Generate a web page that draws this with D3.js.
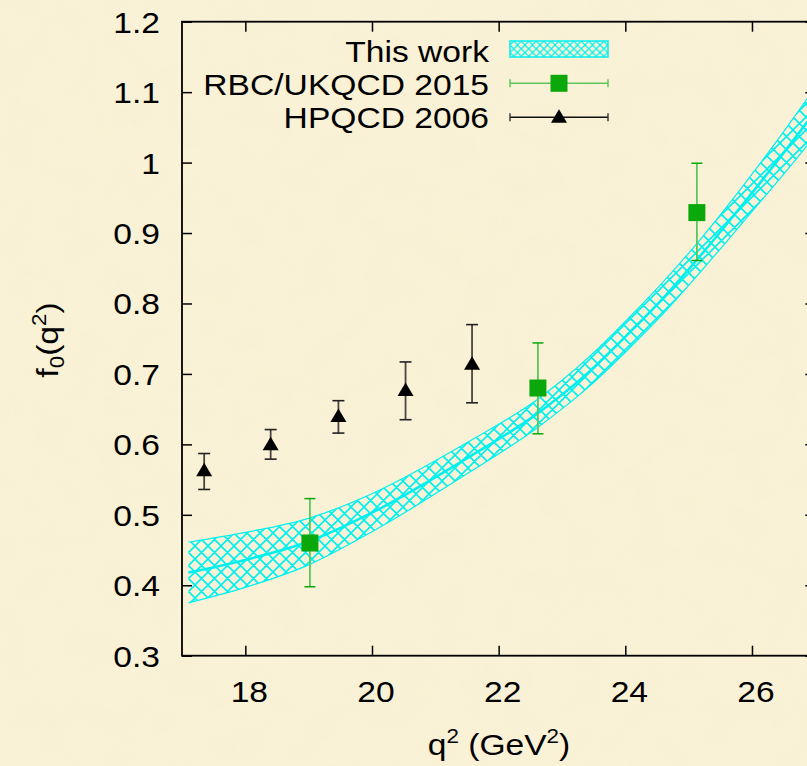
<!DOCTYPE html>
<html>
<head>
<meta charset="utf-8">
<script src="https://cdn.jsdelivr.net/npm/d3@7"></script>
<style>
html,body{margin:0;padding:0;background:#f9f1d5;}
svg{display:block;}
text{font-family:"Liberation Sans",Arial,Helvetica,sans-serif;fill:#000;}
</style>
</head>
<body>
<svg id="chart" width="807" height="766"></svg>
<script>
// ---------------- data ----------------
const xTicks = [18, 20, 22, 24, 26];
const yTicks = [0.3, 0.4, 0.5, 0.6, 0.7, 0.8, 0.9, 1.0, 1.1, 1.2];
const yTickLabels = ["0.3","0.4","0.5","0.6","0.7","0.8","0.9","1","1.1","1.2"];

// "This work" band (q^2, lower, central, upper)
const bandQ2  = [17.1, 18.0, 19.0, 20.0, 21.55, 22.6, 23.44, 24.17, 24.55, 25.13, 25.92, 26.86, 27.0];
const bandMid = [0.418, 0.436, 0.462, 0.503, 0.583, 0.643, 0.704, 0.768, 0.803, 0.862, 0.948, 1.056, 1.073];
const bandLo  = [0.375, 0.397, 0.429, 0.476, 0.561, 0.623, 0.683, 0.746, 0.781, 0.839, 0.922, 1.023, 1.039];
const bandHi  = [0.461, 0.475, 0.495, 0.530, 0.605, 0.663, 0.725, 0.790, 0.826, 0.885, 0.974, 1.089, 1.107];

// RBC/UKQCD 2015
const rbcQ2 = [19.02, 22.62, 25.13];
const rbcF0 = [0.460, 0.680, 0.929];
const rbcLo = [0.398, 0.615, 0.861];
const rbcHi = [0.523, 0.744, 0.999];

// HPQCD 2006
const hpQ2 = [17.35, 18.40, 19.47, 20.53, 21.58];
const hpF0 = [0.564, 0.601, 0.641, 0.678, 0.715];
const hpLo = [0.536, 0.579, 0.616, 0.635, 0.659];
const hpHi = [0.587, 0.621, 0.662, 0.717, 0.770];

const legendLabels = ["This work", "RBC/UKQCD 2015", "HPQCD 2006"];

// ---------------- layout ----------------
const L = 182, R = 815.3, T = 21.7, B = 655.7;
const FS = 30, SX = 1.12;
const cyan = "#00f0f0";
const green = "#0aa80a", greenBar = "#5cc65c";

const svg = d3.select("#chart");
const defs = svg.append("defs");

// background texture
const f = defs.append("filter").attr("id","paper").attr("x",0).attr("y",0).attr("width","100%").attr("height","100%");
f.append("feTurbulence").attr("type","fractalNoise").attr("baseFrequency","0.03").attr("numOctaves",3).attr("seed",7).attr("result","n");
f.append("feColorMatrix").attr("in","n").attr("type","matrix")
  .attr("values","0 0 0 0 0.82  0 0 0 0 0.76  0 0 0 0 0.58  0.5 0 0 0 -0.2");
svg.append("rect").attr("width",807).attr("height",766).attr("fill","#faf2d6");
svg.append("rect").attr("width",807).attr("height",766).attr("filter","url(#paper)").attr("opacity",0.45);

// hatch patterns
function hatch(id, s, w) {
  const p = defs.append("pattern").attr("id",id).attr("patternUnits","userSpaceOnUse")
    .attr("width",s).attr("height",s);
  p.append("path")
    .attr("d",`M${-s/2},${s/2}L${s/2},${s*1.5}M0,0L${s},${s}M${s/2},${-s/2}L${s*1.5},${s/2}` +
              `M${-s/2},${s/2}L${s/2},${-s/2}M0,${s}L${s},0M${s/2},${s*1.5}L${s*1.5},${s/2}`)
    .attr("stroke",cyan).attr("stroke-width",w).attr("fill","none");
}
hatch("hatchBig", 13, 1.6);
hatch("hatchSmall", 7.5, 1.2);

defs.append("clipPath").attr("id","plotClip").append("rect")
  .attr("x",L).attr("y",T).attr("width",R-L).attr("height",B-T);

const x = d3.scaleLinear().domain([17, 27]).range([L, R]);
const y = d3.scaleLinear().domain([0.3, 1.2]).range([B, T]);

// ---------------- band ----------------
const plot = svg.append("g").attr("clip-path","url(#plotClip)");
const bandData = bandQ2.map((q,i)=>({q, lo:bandLo[i], mid:bandMid[i], hi:bandHi[i]}));
const curve = d3.curveMonotoneX;
plot.append("path").datum(bandData)
  .attr("d", d3.area().x(d=>x(d.q)).y0(d=>y(d.lo)).y1(d=>y(d.hi)).curve(curve))
  .attr("fill","url(#hatchBig)").attr("stroke","none");
[ "lo", "hi" ].forEach(k=>{
  plot.append("path").datum(bandData)
    .attr("d", d3.line().x(d=>x(d.q)).y(d=>y(d[k])).curve(curve))
    .attr("fill","none").attr("stroke",cyan).attr("stroke-width",1.2);
});
plot.append("path").datum(bandData)
  .attr("d", d3.line().x(d=>x(d.q)).y(d=>y(d.mid)).curve(curve))
  .attr("fill","none").attr("stroke",cyan).attr("stroke-width",2.6);

// ---------------- RBC/UKQCD ----------------
const rbc = rbcQ2.map((q,i)=>({q, v:rbcF0[i], lo:rbcLo[i], hi:rbcHi[i]}));
const gR = plot.append("g");
rbc.forEach(d=>{
  const cx = x(d.q);
  gR.append("line").attr("x1",cx).attr("x2",cx).attr("y1",y(d.lo)).attr("y2",y(d.hi))
    .attr("stroke",greenBar).attr("stroke-width",1.8);
  [d.lo,d.hi].forEach(v=>gR.append("line").attr("x1",cx-5.5).attr("x2",cx+5.5).attr("y1",y(v)).attr("y2",y(v))
    .attr("stroke",green).attr("stroke-width",1.5));
  gR.append("rect").attr("x",cx-8.5).attr("y",y(d.v)-8.5).attr("width",17).attr("height",17).attr("fill",green);
});

// ---------------- HPQCD ----------------
const hp = hpQ2.map((q,i)=>({q, v:hpF0[i], lo:hpLo[i], hi:hpHi[i]}));
const gH = plot.append("g");
const tri = (cx,cy)=>`M${cx},${cy-7}L${cx+8},${cy+6.5}L${cx-8},${cy+6.5}Z`;
hp.forEach(d=>{
  const cx = x(d.q);
  gH.append("line").attr("x1",cx).attr("x2",cx).attr("y1",y(d.lo)).attr("y2",y(d.hi))
    .attr("stroke","#4a4540").attr("stroke-width",1.8);
  [d.lo,d.hi].forEach(v=>gH.append("line").attr("x1",cx-6).attr("x2",cx+6).attr("y1",y(v)).attr("y2",y(v))
    .attr("stroke","#222").attr("stroke-width",1.6));
  gH.append("path").attr("d",tri(cx,y(d.v))).attr("fill","#000");
});

// ---------------- axes ----------------
const axG = svg.append("g");
function styleAxis(g){ g.select(".domain").remove(); g.selectAll("line").attr("stroke","#000").attr("stroke-width",1.5); g.selectAll("text").remove(); }
axG.append("g").attr("transform",`translate(0,${B})`)
  .call(d3.axisBottom(x).tickValues(xTicks).tickSizeInner(-10).tickSizeOuter(0)).call(styleAxis);
axG.append("g").attr("transform",`translate(0,${T})`)
  .call(d3.axisTop(x).tickValues(xTicks).tickSizeInner(-10).tickSizeOuter(0)).call(styleAxis);
axG.append("g").attr("transform",`translate(${L},0)`)
  .call(d3.axisLeft(y).tickValues(yTicks).tickSizeInner(-10).tickSizeOuter(0)).call(styleAxis);
axG.append("g").attr("transform",`translate(${R},0)`)
  .call(d3.axisRight(y).tickValues(yTicks).tickSizeInner(-10).tickSizeOuter(0)).call(styleAxis);
axG.append("rect").attr("x",L).attr("y",T).attr("width",R-L).attr("height",B-T)
  .attr("fill","none").attr("stroke","#000").attr("stroke-width",1.8);

// tick labels
const lab = svg.append("g").attr("font-size",FS);
xTicks.forEach(t=>{
  lab.append("text").attr("text-anchor","middle")
    .attr("transform",`translate(${x(t)+4},${B+46}) scale(${SX},1)`).text(String(t));
});
yTicks.forEach((t,i)=>{
  lab.append("text").attr("text-anchor","end")
    .attr("transform",`translate(160,${y(t)+11}) scale(${SX},1)`).text(yTickLabels[i]);
});

// axis titles
const xt = svg.append("text").attr("text-anchor","middle").attr("font-size",FS)
  .attr("transform",`translate(499,755) scale(${SX},1)`);
xt.append("tspan").text("q");
xt.append("tspan").attr("font-size",20).attr("dy",-12).text("2");
xt.append("tspan").attr("dy",12).text(" (GeV");
xt.append("tspan").attr("font-size",20).attr("dy",-12).text("2");
xt.append("tspan").attr("dy",12).text(")");

const yt = svg.append("text").attr("text-anchor","middle").attr("font-size",FS)
  .attr("transform",`translate(58,340) rotate(-90) scale(${SX},1)`);
yt.append("tspan").text("f");
yt.append("tspan").attr("font-size",20).attr("dy",6).text("0");
yt.append("tspan").attr("dy",-6).text("(q");
yt.append("tspan").attr("font-size",20).attr("dy",-12).text("2");
yt.append("tspan").attr("dy",12).text(")");

// ---------------- legend ----------------
const leg = svg.append("g");
const rowY = [61.7, 95, 128.3];
const sx0 = 510, sx1 = 608, sxm = 559;
legendLabels.forEach((t,i)=>{
  leg.append("text").attr("text-anchor","end").attr("font-size",FS)
    .attr("transform",`translate(489,${rowY[i]}) scale(${SX},1)`).text(t);
});
leg.append("rect").attr("x",sx0).attr("y",41).attr("width",sx1-sx0).attr("height",16)
  .attr("fill","url(#hatchSmall)").attr("stroke",cyan).attr("stroke-width",1.5);
// RBC sample
const ly2 = 83.3;
leg.append("line").attr("x1",sx0).attr("x2",sx1).attr("y1",ly2).attr("y2",ly2).attr("stroke",greenBar).attr("stroke-width",1.5);
[sx0,sx1].forEach(xx=>leg.append("line").attr("x1",xx).attr("x2",xx).attr("y1",ly2-4).attr("y2",ly2+4).attr("stroke",greenBar).attr("stroke-width",1.5));
leg.append("rect").attr("x",sxm-8.5).attr("y",ly2-8.5).attr("width",17).attr("height",17).attr("fill",green);
// HPQCD sample
const ly3 = 117.3;
leg.append("line").attr("x1",sx0).attr("x2",sx1).attr("y1",ly3).attr("y2",ly3).attr("stroke","#111").attr("stroke-width",1.4);
[sx0,sx1].forEach(xx=>leg.append("line").attr("x1",xx).attr("x2",xx).attr("y1",ly3-4).attr("y2",ly3+4).attr("stroke","#333").attr("stroke-width",1.4));
leg.append("path").attr("d",tri(sxm,ly3-1)).attr("fill","#000");
</script>
</body>
</html>
